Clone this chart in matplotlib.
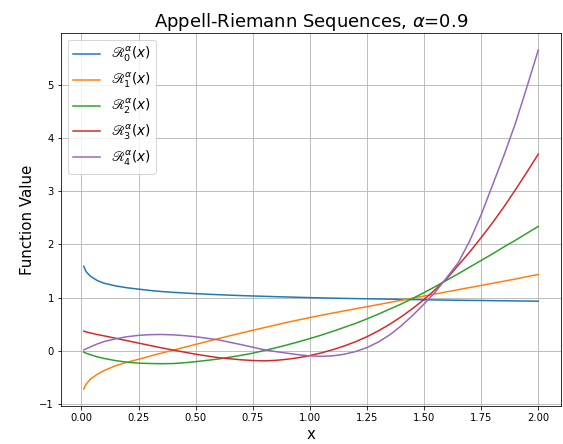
import matplotlib
matplotlib.use("Agg")
import matplotlib.pyplot as plt

# values
x = [0.01, 0.02, 0.04, 0.07, 0.1, 0.15, 0.2, 0.25, 0.3, 0.35, 0.4, 0.45, 0.5,
     0.6, 0.7, 0.75, 0.8, 0.85, 0.9, 0.95, 1.0, 1.05, 1.1, 1.15, 1.2, 1.25,
     1.3, 1.35, 1.4, 1.45, 1.5, 1.55, 1.6, 1.65, 1.7, 1.75, 1.8, 1.85, 1.9,
     1.95, 2.0]

r0 = [1.59, 1.49, 1.40, 1.32, 1.27, 1.22, 1.185, 1.16, 1.135, 1.115, 1.10,
      1.087, 1.075, 1.055, 1.038, 1.031, 1.025, 1.018, 1.012, 1.006, 1.0,
      0.995, 0.99, 0.986, 0.982, 0.978, 0.975, 0.971, 0.967, 0.963, 0.96,
      0.957, 0.954, 0.951, 0.948, 0.946, 0.943, 0.941, 0.938, 0.936, 0.933]

r1 = [-0.72, -0.63, -0.53, -0.44, -0.37, -0.28, -0.215, -0.16, -0.10, -0.045,
      0.01, 0.065, 0.12, 0.23, 0.335, 0.385, 0.435, 0.485, 0.535, 0.58, 0.625,
      0.668, 0.71, 0.75, 0.79, 0.83, 0.87, 0.91, 0.95, 0.99, 1.03, 1.07, 1.11,
      1.15, 1.19, 1.23, 1.27, 1.31, 1.35, 1.395, 1.435]

r2 = [-0.025, -0.045, -0.075, -0.115, -0.145, -0.185, -0.215, -0.232, -0.24,
      -0.243, -0.24, -0.225, -0.205, -0.155, -0.085, -0.045, 0.005, 0.055,
      0.11, 0.168, 0.23, 0.295, 0.365, 0.44, 0.515, 0.60, 0.69, 0.785, 0.88,
      0.985, 1.095, 1.21, 1.33, 1.45, 1.575, 1.70, 1.825, 1.955, 2.08, 2.21,
      2.34]

r3 = [0.37, 0.355, 0.335, 0.305, 0.28, 0.235, 0.19, 0.145, 0.10, 0.055, 0.015,
      -0.025, -0.065, -0.13, -0.17, -0.183, -0.19, -0.18, -0.16, -0.13, -0.09,
      -0.04, 0.02, 0.09, 0.17, 0.265, 0.375, 0.50, 0.64, 0.795, 0.965, 1.155,
      1.36, 1.61, 1.86, 2.13, 2.41, 2.71, 3.03, 3.36, 3.70]

r4 = [0.015, 0.035, 0.075, 0.13, 0.175, 0.225, 0.265, 0.29, 0.303, 0.307,
      0.30, 0.285, 0.265, 0.205, 0.115, 0.067, 0.02, -0.015, -0.045, -0.075,
      -0.095, -0.105, -0.095, -0.065, -0.015, 0.06, 0.165, 0.30, 0.47, 0.665,
      0.88, 1.11, 1.38, 1.66, 2.07, 2.56, 3.12, 3.68, 4.28, 4.96, 5.66]

series = [r0, r1, r2, r3, r4]
labels = [r"$\mathscr{R}_{%d}^{\alpha}(x)$" % n for n in range(5)]

fig = plt.figure(figsize=(563 / 72, 444 / 72), dpi=72)
ax = fig.add_axes([61 / 563, 1 - 406 / 444, 500 / 563, 373 / 444])

for vals, lab in zip(series, labels):
    ax.plot(x, vals, label=lab)

ax.set_title(r"Appell-Riemann Sequences, $\alpha$=0.9", fontsize=18)
ax.set_xlabel("x", fontsize=15)
ax.set_ylabel("Function Value", fontsize=15)
ax.legend(fontsize=13.5)
ax.grid(True)

fig.savefig("out.png", dpi=72)
